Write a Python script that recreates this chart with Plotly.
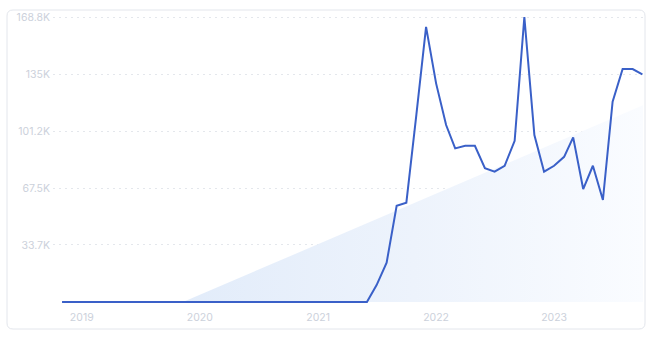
import plotly.graph_objects as go
import pandas as pd

# ---- data ----
months = pd.date_range("2018-11-01", "2023-10-01", freq="MS").strftime("%Y-%m-%d").tolist()
zero_months = 32  # Nov 2018 .. Jun 2021 are zero
active_values = [
    0,                                   # 2021-06
    10000, 23300, 57000, 58800, 111000, 163000,   # 2021-07 .. 2021-12
    129500, 104800, 91000, 92500, 92500, 79200,   # 2022-01 .. 2022-06
    77200, 80700, 95500, 168800, 98900, 77200,    # 2022-07 .. 2022-12
    80700, 86000, 97500, 66900, 80700, 60400,     # 2023-01 .. 2023-06
    118600, 138000, 138000, 134800,               # 2023-07 .. 2023-10
]
values = [0] * (len(months) - len(active_values)) + active_values

trend_dates = ["2019-11-10", "2023-10-03"]
trend_values = [0, 116600]

y_max = 168800
y_tickvals = [y_max * i / 5 for i in range(1, 6)]
y_ticktext = ["33.7K", "67.5K", "101.2K", "135K", "168.8K"]
x_tickvals = ["2019-01-01", "2020-01-01", "2021-01-01", "2022-01-01", "2023-01-01"]
x_ticktext = ["2019", "2020", "2021", "2022", "2023"]

# ---- layout constants ----
W, H = 651, 341
ML, MR, MT, MB = 53, 8, 16, 38
PW, PH = W - ML - MR, H - MT - MB

def px(x):
    return (x - ML) / PW

def py(y):
    return (H - MB - y) / PH

fig = go.Figure()

fig.add_trace(go.Scatter(
    x=trend_dates, y=trend_values, mode="lines",
    line=dict(width=0, color="rgba(0,0,0,0)"),
    fill="tozeroy",
    fillgradient=dict(type="horizontal",
                      colorscale=[[0, "#e2ecfa"], [0.5, "#edf3fc"], [1, "#fafcff"]]),
    hoverinfo="skip", showlegend=False,
))

fig.add_trace(go.Scatter(
    x=months, y=values, mode="lines",
    line=dict(color="#3a60c8", width=2),
    showlegend=False,
))

# card border with rounded corners (pixel coords -> paper)
x0, y0, x1, y1, r = 7, 10, 645, 329, 6
path = (
    f"M {px(x0 + r)} {py(y0)} L {px(x1 - r)} {py(y0)} "
    f"Q {px(x1)} {py(y0)} {px(x1)} {py(y0 + r)} "
    f"L {px(x1)} {py(y1 - r)} Q {px(x1)} {py(y1)} {px(x1 - r)} {py(y1)} "
    f"L {px(x0 + r)} {py(y1)} Q {px(x0)} {py(y1)} {px(x0)} {py(y1 - r)} "
    f"L {px(x0)} {py(y0 + r)} Q {px(x0)} {py(y0)} {px(x0 + r)} {py(y0)} Z"
)
fig.add_shape(type="path", xref="paper", yref="paper", path=path,
              line=dict(color="#e3e6ec", width=1), fillcolor="rgba(0,0,0,0)",
              layer="below")

fig.update_layout(
    width=W, height=H,
    margin=dict(l=ML, r=MR, t=MT, b=MB),
    paper_bgcolor="white", plot_bgcolor="white",
    font=dict(family="Inter", size=10.5, color="#ccd1db"),
    xaxis=dict(
        type="date", range=["2018-10-04", "2023-10-03"],
        tickvals=x_tickvals, ticktext=x_ticktext,
        showgrid=False, zeroline=False, showline=False, ticks="",
        ticklabelstandoff=6,
    ),
    yaxis=dict(
        range=[-600, 169400],
        tickvals=y_tickvals, ticktext=y_ticktext,
        showgrid=True, gridcolor="#e4e7ec", griddash="2px,4px", gridwidth=1,
        zeroline=False, showline=False, ticks="",
        ticklabelstandoff=2,
    ),
)

fig.write_html("out.html")
